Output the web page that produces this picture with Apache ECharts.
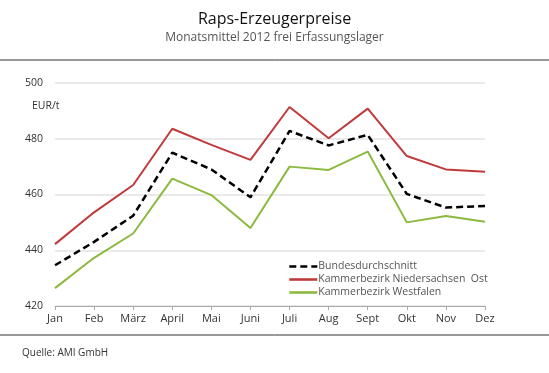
<!DOCTYPE html>
<html><head><meta charset="utf-8">
<script src="https://cdn.jsdelivr.net/npm/echarts@6/dist/echarts.min.js"></script>
<style>html,body{margin:0;padding:0;background:#fff}#c{width:549px;height:373px}</style>
</head><body><div id="c"></div>
<script>
const categories = ['Jan','Feb','März','April','Mai','Juni','Juli','Aug','Sept','Okt','Nov','Dez'];
const bundesdurchschnitt = [434.6,443.0,452.4,475.0,469.0,459.0,482.8,477.6,481.4,460.2,455.3,455.9];
const niedersachsenOst = [442.2,453.6,463.4,483.6,477.8,472.4,491.4,480.2,490.8,473.8,469.0,468.2];
const westfalen = [426.4,437.3,446.0,465.7,459.8,448.0,470.0,468.8,475.4,450.0,452.3,450.2];
const seriesNames = ['Bundesdurchschnitt','Kammerbezirk Niedersachsen  Ost','Kammerbezirk Westfalen'];
const yTicks = {min:420,max:500,interval:20};

const font = '"Open Sans", sans-serif';
const chart = echarts.init(document.getElementById('c'));
chart.setOption({
  animation:false,
  textStyle:{fontFamily:font},
  title:{text:'Raps-Erzeugerpreise',subtext:'Monatsmittel 2012 frei Erfassungslager',left:'center',top:6,
    itemGap:5,
    textStyle:{fontFamily:font,fontSize:16,fontWeight:'normal',color:'#111'},
    subtextStyle:{fontFamily:font,fontSize:12,color:'#555'}},
  grid:{left:55,right:64,top:83,bottom:67},
  legend:{orient:'vertical',left:283,top:256,itemWidth:28,itemHeight:12,itemGap:2,
    itemStyle:{opacity:0},
    lineStyle:{width:2.6},
    textStyle:{fontFamily:font,fontSize:10.5,color:'#555',padding:[0,0,0,-4]},
    data:seriesNames},
  xAxis:{type:'category',data:categories,boundaryGap:false,
    axisLine:{lineStyle:{color:'#aaa'}},
    axisTick:{show:true,length:4,lineStyle:{color:'#aaa'}},
    axisLabel:{fontFamily:font,fontSize:11,color:'#333',margin:7}},
  yAxis:{type:'value',min:yTicks.min,max:yTicks.max,interval:yTicks.interval,
    axisLine:{show:false},axisTick:{show:false},
    splitLine:{lineStyle:{color:'#e3e3e3',width:1.5}},
    axisLabel:{fontFamily:font,fontSize:10.5,color:'#333',margin:12}},
  graphic:[
    {type:'line',shape:{x1:0,y1:60,x2:549,y2:60},style:{stroke:'#333',lineWidth:1}},
    {type:'line',shape:{x1:0,y1:335,x2:549,y2:335},style:{stroke:'#333',lineWidth:1}},
    {type:'text',left:32,top:101,style:{text:'EUR/t',fontFamily:font,fontSize:10.5,fill:'#333'}},
    {type:'text',left:22,top:348,style:{text:'Quelle: AMI GmbH',fontFamily:font,fontSize:10,fill:'#333'}}
  ],
  series:[
    {name:seriesNames[0],type:'line',data:bundesdurchschnitt,symbol:'none',z:3,
      lineStyle:{color:'#000',width:2.5,type:[7,4]},itemStyle:{color:'#000'}},
    {name:seriesNames[1],type:'line',data:niedersachsenOst,symbol:'none',
      lineStyle:{color:'#c0393b',width:2},itemStyle:{color:'#c0393b'}},
    {name:seriesNames[2],type:'line',data:westfalen,symbol:'none',
      lineStyle:{color:'#8cb93f',width:2},itemStyle:{color:'#8cb93f'}}
  ]
});
</script></body></html>
